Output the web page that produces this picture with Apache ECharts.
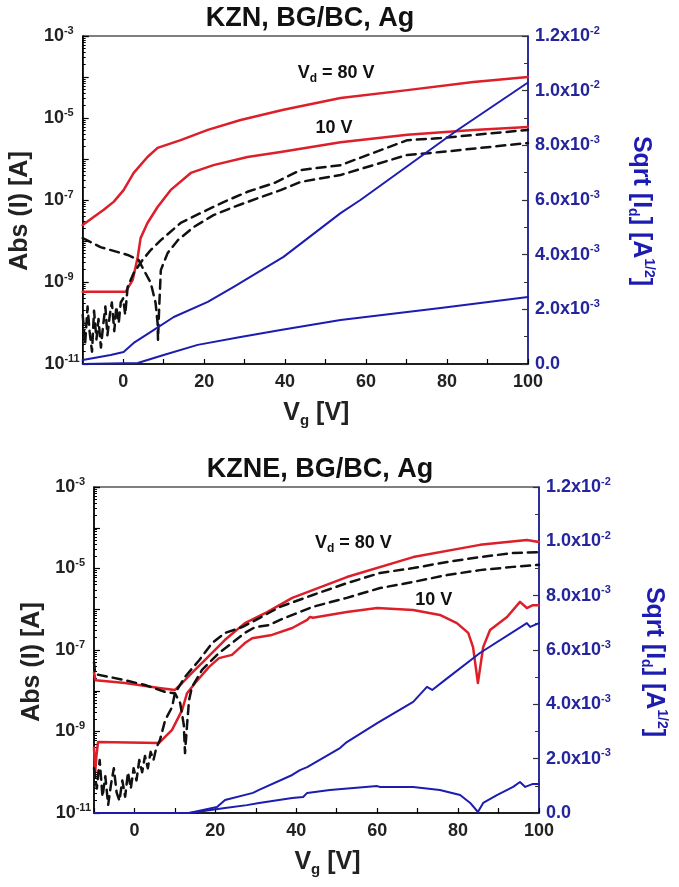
<!DOCTYPE html>
<html>
<head>
<meta charset="utf-8">
<script src="https://cdn.jsdelivr.net/npm/echarts@6/dist/echarts.min.js"></script>
<style>html,body{margin:0;padding:0;background:#fff}#c{width:679px;height:887px}</style>
</head>
<body>
<div id="c"></div>
<script>
// ---------- DATA (Vg [V], log10|I| [A]) and (Vg [V], sqrt(Id) [A^1/2]) ----------
const titles = ['KZN, BG/BC, Ag', 'KZNE, BG/BC, Ag'];
const xTicks = [0, 20, 40, 60, 80, 100];

// Top panel (KZN)
const topRed80 = [[-10,-7.61],[-7.2,-7.41],[-4.8,-7.24],[-2.3,-7.04],[0.1,-6.76],[2.6,-6.34],[6.0,-5.95],[8.5,-5.73],[14.2,-5.54],[20.9,-5.29],[29,-5.05],[39.6,-4.80],[53.7,-4.51],[70.2,-4.32],[86.5,-4.12],[100,-4.0]];
const topRed10 = [[-10,-9.24],[0.6,-9.24],[2.35,-8.95],[3.6,-8.39],[4.3,-7.93],[6.0,-7.56],[8.5,-7.17],[11.7,-6.76],[16.7,-6.34],[22.3,-6.15],[30.7,-5.95],[38.9,-5.83],[53.7,-5.59],[70.2,-5.41],[86.5,-5.29],[100,-5.22]];
const topDashA = [[-10,-7.93],[-5.6,-8.15],[1.1,-8.34],[3.8,-8.46],[5.1,-8.71],[6.8,-9.02],[8.0,-9.51],[8.5,-10.0],[8.6,-10.41],[8.9,-9.6],[9.3,-8.71],[11.0,-8.29],[13.5,-7.98],[17.4,-7.66],[22.3,-7.37],[27.3,-7.17],[34.0,-6.93],[38.9,-6.76],[43.8,-6.56],[53.7,-6.39],[70.2,-5.90],[78.4,-5.83],[100,-5.61]];
const topDashB = [[-10,-9.8],[-9.4,-10.5],[-8.8,-9.6],[-8.3,-10.2],[-7.7,-10.7],[-7.2,-9.7],[-6.6,-10.4],[-6.1,-9.9],[-5.5,-10.6],[-5.0,-10.1],[-4.4,-9.6],[-3.9,-10.3],[-3.3,-9.8],[-2.8,-9.5],[-2.2,-10.2],[-1.7,-9.6],[-1.1,-10.0],[-0.6,-9.5],[0,-9.4],[0.5,-9.8],[1.1,-9.12],[2.6,-8.78],[4.8,-8.46],[6.8,-8.22],[9.3,-7.98],[14.2,-7.56],[19.1,-7.32],[24.8,-7.05],[30.7,-6.80],[37.2,-6.59],[43.8,-6.27],[53.7,-6.15],[70.2,-5.54],[78.4,-5.49],[100,-5.29]];
const topBlue80 = [[-10,1.46e-4],[-3.1,3.29e-4],[0.1,4.4e-4],[2.6,7.7e-4],[7.5,1.24e-3],[12.5,1.72e-3],[20.9,2.27e-3],[27.3,2.82e-3],[39.6,3.92e-3],[53.7,5.52e-3],[58.6,6.0e-3],[82.6,8.56e-3],[100,1.03e-2]];
const topBlue10 = [[-10,0],[3.6,3.7e-5],[10,3.3e-4],[18.4,7.0e-4],[29,9.9e-4],[38.9,1.24e-3],[53.7,1.61e-3],[78.4,2.05e-3],[100,2.45e-3]];

// Bottom panel (KZNE)
const botRed80 = [[-10,-7.55],[-9.6,-7.74],[-2.3,-7.81],[6.1,-7.93],[10.0,-7.98],[11.8,-7.81],[14.2,-7.56],[17.4,-7.25],[22.4,-6.75],[27.3,-6.34],[32.8,-6.07],[39.0,-5.72],[52.5,-5.21],[68.9,-4.72],[85.4,-4.42],[97,-4.30],[100,-4.35]];
const botRed10 = [[-10,-9.4],[-9.7,-10.0],[-9.4,-9.6],[-9.0,-9.26],[6.1,-9.28],[9.3,-8.96],[11.8,-8.47],[13.0,-8.06],[15.0,-7.81],[18.4,-7.42],[20.9,-7.20],[24.1,-7.12],[27.3,-6.83],[29.1,-6.71],[34.0,-6.63],[39,-6.46],[42.7,-6.26],[43.4,-6.19],[44.1,-6.21],[52.5,-6.07],[60,-5.97],[68.9,-6.02],[75.5,-6.14],[79.7,-6.34],[82.5,-6.58],[83.7,-6.93],[84.9,-7.81],[86.2,-6.93],[87.9,-6.51],[92.1,-6.19],[95.3,-5.82],[97,-5.97],[98.5,-5.90],[100,-5.90]];
const botDashA = [[-10,-7.3],[-9.7,-7.6],[-8.8,-7.61],[-2.3,-7.74],[2.6,-7.86],[7.6,-8.03],[10.0,-8.06],[11.3,-8.30],[12.2,-8.84],[12.5,-9.53],[13.0,-8.84],[13.5,-8.23],[14.2,-7.91],[16.7,-7.49],[20.9,-7.07],[24.1,-6.83],[27.3,-6.58],[29.8,-6.44],[33.3,-6.39],[36.0,-6.26],[44.1,-5.94],[52.5,-5.72],[60.7,-5.48],[68.9,-5.33],[77.3,-5.16],[85.4,-5.04],[93.6,-4.96],[100,-4.91]];
const botDashB = [[-10,-9.9],[-9.3,-10.4],[-8.6,-9.7],[-7.9,-10.6],[-7.2,-10.1],[-6.5,-10.8],[-5.8,-10.3],[-5.1,-9.9],[-4.4,-10.5],[-3.7,-10.7],[-3.0,-10.2],[-2.3,-10.6],[-1.6,-10.0],[-0.9,-10.4],[-0.2,-9.9],[0.5,-10.2],[1.2,-9.7],[1.9,-10.0],[2.6,-9.6],[3.3,-9.9],[4.0,-9.5],[4.7,-9.7],[5.4,-9.4],[6.3,-9.21],[7.6,-8.72],[9.3,-8.40],[10.0,-8.06],[12.5,-7.66],[16.0,-7.25],[19.2,-6.83],[22.4,-6.58],[26.6,-6.44],[31.0,-6.21],[36.0,-5.94],[44.1,-5.65],[52.5,-5.36],[60.7,-5.11],[68.9,-4.99],[77.3,-4.84],[85.4,-4.72],[93.6,-4.62],[100,-4.60]];
const botBlue80 = [[-10,0],[13.5,0],[20.4,2.2e-4],[22.4,4.8e-4],[29.3,7.4e-4],[30.8,8.5e-4],[39.0,1.40e-3],[40.9,1.58e-3],[42.7,1.69e-3],[50.8,2.39e-3],[52.5,2.61e-3],[60.0,3.31e-3],[68.9,4.09e-3],[72.3,4.64e-3],[73.6,4.53e-3],[76.8,4.90e-3],[85.4,5.89e-3],[97.0,6.99e-3],[97.8,6.85e-3],[100,6.99e-3]];
const botBlue10 = [[-10,0],[13.5,0],[22.4,1.8e-4],[27.8,2.9e-4],[30.8,3.7e-4],[39.0,5.5e-4],[41.7,5.9e-4],[42.7,7.4e-4],[48.3,8.5e-4],[60.0,9.9e-4],[60.7,9.6e-4],[68.9,9.6e-4],[75.5,8.5e-4],[80.5,6.6e-4],[83.0,3.7e-4],[84.9,3.7e-5],[86.2,3.7e-4],[89.6,6.6e-4],[93.6,9.6e-4],[95.3,1.14e-3],[96.6,9.6e-4],[98.5,1.07e-3],[100,1.07e-3]];

// annotation anchor points [Vg, log10 I]
const notes = [
  {grid:0, text:'{v|V}{sub|d}{v| = 80 V}', at:[43.1,-3.9]},
  {grid:0, text:'{v|10 V}', at:[47.5,-5.24]},
  {grid:1, text:'{v|V}{sub|d}{v| = 80 V}', at:[44.6,-4.37]},
  {grid:1, text:'{v|10 V}', at:[69.4,-5.77]}
];

// ---------- STYLE ----------
const FONT = '"Liberation Sans", Arial, Helvetica, sans-serif';
const RED = '#dd1f2a', BLUE = '#1c1cb0', LBLUE = '#24249c';
const toI = arr => arr.map(p => [p[0], Math.pow(10, p[1])]);

const grids = [
  {left:82, top:36, width:446, height:328},
  {left:94, top:487, width:445, height:326}
];

function xAxis(g, gap){
  return {
    gridIndex:g, type:'value', min:-10, max:100, interval:10,
    axisLine:{show:true, onZero:false, lineStyle:{color:'#000', width:1.5}},
    axisTick:{inside:true, length:5, lineStyle:{color:'#000', width:1.2}},
    splitLine:{show:false},
    axisLabel:{margin:9, color:'#222', fontFamily:FONT, fontSize:18, fontWeight:'bold',
      formatter: v => xTicks.indexOf(v) >= 0 ? String(v) : ''},
    name:'{n|V}{s|g}{n| [V]}', nameLocation:'middle', nameGap:gap,
    nameTextStyle:{padding:[0,0,0,22], rich:{
      n:{fontFamily:FONT, fontSize:25, fontWeight:'bold', color:'#222', lineHeight:30},
      s:{fontFamily:FONT, fontSize:15, fontWeight:'bold', color:'#222', verticalAlign:'bottom', lineHeight:18}
    }}
  };
}
function yLog(g, gap, shift){
  const sup = {fontFamily:FONT, fontSize:11, fontWeight:'bold', color:'#222', verticalAlign:'top', lineHeight:12};
  return {
    gridIndex:g, type:'log', logBase:10, min:1e-11, max:1e-3, interval:1,
    axisLine:{show:true, onZero:false, lineStyle:{color:'#000', width:1.5}},
    axisTick:{inside:true, length:6, lineStyle:{color:'#000', width:1.2}},
    minorTick:{show:true, splitNumber:9, length:3, lineStyle:{color:'#000', width:1}},
    splitLine:{show:false},
    axisLabel:{margin:3,
      formatter: v => {
        const e = Math.round(Math.log10(v));
        if (Math.abs(e) % 2 !== 1) return '';
        return '{b|10}' + (e <= -10 ? '{s2|' : '{s|') + e + '}';
      },
      rich:{
        b:{fontFamily:FONT, fontSize:18, fontWeight:'bold', color:'#222', lineHeight:22},
        s:Object.assign({padding:[0,6,0,0]}, sup),
        s2:Object.assign({padding:[0,0,0,0]}, sup)
      }},
    name:'Abs (I) [A]', nameLocation:'middle', nameGap:gap, nameRotate:90,
    nameTextStyle:{fontFamily:FONT, fontSize:25, fontWeight:'bold', color:'#222', padding:[0, shift, 0, 0]}
  };
}
function ySqrt(g, gap, shift){
  return {
    gridIndex:g, type:'value', position:'right', min:0, max:0.012, interval:0.002,
    axisLine:{show:true, onZero:false, lineStyle:{color:BLUE, width:1.5}},
    axisTick:{inside:true, length:6, lineStyle:{color:'#333', width:1.2}},
    minorTick:{show:true, splitNumber:2, length:4, lineStyle:{color:'#333', width:1}},
    splitLine:{show:false},
    axisLabel:{margin:7,
      formatter: v => {
        if (v === 0) return '{b|0.0}';
        const e = Math.floor(Math.log10(v) + 1e-9);
        return '{b|' + (v / Math.pow(10, e)).toFixed(1) + 'x10}{s|' + e + '}';
      },
      rich:{
        b:{fontFamily:FONT, fontSize:18, fontWeight:'bold', color:LBLUE, lineHeight:22},
        s:{fontFamily:FONT, fontSize:11, fontWeight:'bold', color:LBLUE, verticalAlign:'top', lineHeight:12}
      }},
    name:'{n|Sqrt [I}{s|d}{n|] [A}{p|1/2}{n|]}', nameLocation:'middle', nameGap:gap, nameRotate:-90,
    nameTextStyle:{padding:[0,0,0,shift], rich:{
      n:{fontFamily:FONT, fontSize:25, fontWeight:'bold', color:BLUE, lineHeight:30},
      s:{fontFamily:FONT, fontSize:14, fontWeight:'bold', color:BLUE, verticalAlign:'bottom', lineHeight:16},
      p:{fontFamily:FONT, fontSize:14, fontWeight:'bold', color:BLUE, verticalAlign:'top', lineHeight:16}
    }}
  };
}

function line(name, data, xi, yi, color, width, dashed){
  return {name, type:'line', xAxisIndex:xi, yAxisIndex:yi, data, showSymbol:false, symbol:'none',
    smooth:false, animation:false, silent:true,
    lineStyle:{color, width, type: dashed ? [9,6] : 'solid', join:'round', cap:'round'}};
}

const chart = echarts.init(document.getElementById('c'), null, {renderer:'canvas'});
const option = {
  backgroundColor:'#fff',
  animation:false,
  title:[
    {text:titles[0], left:305, top:0, textAlign:'center', textStyle:{fontFamily:FONT, fontSize:27, fontWeight:'bold', color:'#111'}},
    {text:titles[1], left:315, top:451, textAlign:'center', textStyle:{fontFamily:FONT, fontSize:27, fontWeight:'bold', color:'#111'}}
  ],
  grid: grids.map(g => Object.assign({show:true, borderColor:'#000', borderWidth:1.2, backgroundColor:'#fff', containLabel:false}, g)),
  xAxis:[xAxis(0, 34), xAxis(1, 34)],
  yAxis:[yLog(0, 46, 22), ySqrt(0, 98, 22), yLog(1, 49, 24), ySqrt(1, 100, 24)],
  series:[
    line('KZN Vd=80V', toI(topRed80), 0, 0, RED, 2.5),
    line('KZN Vd=10V', toI(topRed10), 0, 0, RED, 2.5),
    line('KZN rev A', toI(topDashA), 0, 0, '#111', 2.5, true),
    line('KZN rev B', toI(topDashB), 0, 0, '#111', 2.5, true),
    line('KZN sqrt 80V', topBlue80, 0, 1, BLUE, 2),
    line('KZN sqrt 10V', topBlue10, 0, 1, BLUE, 2),
    line('KZNE Vd=80V', toI(botRed80), 1, 2, RED, 2.5),
    line('KZNE Vd=10V', toI(botRed10), 1, 2, RED, 2.5),
    line('KZNE rev A', toI(botDashA), 1, 2, '#111', 2.5, true),
    line('KZNE rev B', toI(botDashB), 1, 2, '#111', 2.5, true),
    line('KZNE sqrt 80V', botBlue80, 1, 3, BLUE, 2),
    line('KZNE sqrt 10V', botBlue10, 1, 3, BLUE, 2)
  ]
};
chart.setOption(option);

// place annotations through the chart's own coordinate conversion
const graphic = notes.map(n => {
  const p = chart.convertToPixel({xAxisIndex:n.grid, yAxisIndex:n.grid*2}, [n.at[0], Math.pow(10, n.at[1])]);
  return {type:'text', x:p[0], y:p[1], silent:true, z:100,
    style:{text:n.text, verticalAlign:'middle', align:'left',
      rich:{
        v:{fontFamily:FONT, fontSize:18, fontWeight:'bold', fill:'#111', lineHeight:24},
        sub:{fontFamily:FONT, fontSize:12, fontWeight:'bold', fill:'#111', verticalAlign:'bottom', lineHeight:14}
      }}};
});
chart.setOption({graphic});
</script>
</body>
</html>
